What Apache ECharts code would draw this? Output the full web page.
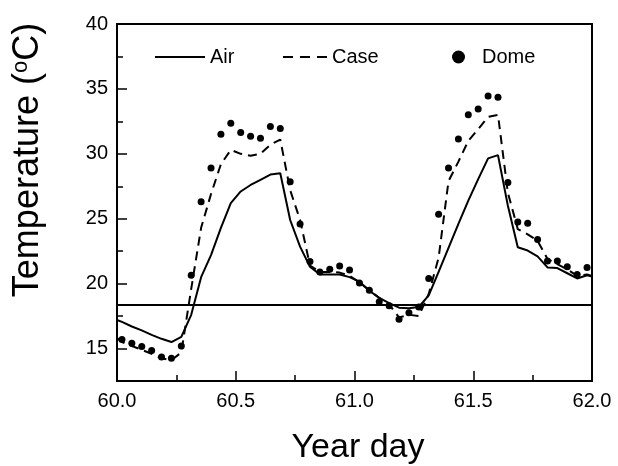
<!DOCTYPE html>
<html><head><meta charset="utf-8">
<script src="https://cdn.jsdelivr.net/npm/echarts@6/dist/echarts.min.js"></script>
<style>html,body{margin:0;padding:0;background:#fff}#c{width:618px;height:466px}</style>
</head><body><div id="c"></div>
<script>
// ---- data ----
const startDay = 60, endDay = 62;
// Air / Case: value at day 60.0, then hourly (half-hour centred) values, then value at day 62.0
const airTemp = [17.2,
  17.05,16.7,16.4,16.05,15.75,15.5,15.9,17.6,20.5,22.2,24.3,26.2,
  27.1,27.6,28.0,28.4,28.5,24.9,22.85,21.3,20.7,20.7,20.7,20.5,
  20.15,19.45,18.9,18.5,18.15,18.1,18.2,19.1,20.9,22.75,24.6,26.4,
  28.05,29.65,29.9,26.0,22.8,22.55,22.1,21.25,21.2,20.8,20.4,20.65,
  20.55];
const caseTemp = [15.8,
  15.5,15.2,14.9,14.6,14.25,14.1,14.7,19.6,24.3,26.9,29.2,30.3,
  30.0,29.85,30.0,30.7,31.1,27.2,24.9,21.4,20.9,20.9,20.85,20.6,
  20.1,19.5,18.9,18.4,17.4,17.6,17.5,19.2,22.0,27.9,29.4,31.0,
  31.9,32.85,33.0,27.0,24.2,23.8,23.3,21.9,21.5,21.1,20.6,20.7,
  20.6];
// Dome: hourly (half-hour centred) values
const domeTemp = [15.7,15.4,15.15,14.85,14.35,14.25,15.2,20.65,26.3,28.9,31.5,32.35,
  31.65,31.35,31.2,32.1,31.95,27.85,24.6,21.7,20.9,21.1,21.35,21.05,
  20.05,19.5,18.6,18.3,17.25,17.75,18.2,20.4,25.35,28.9,31.15,33.0,
  33.45,34.45,34.35,27.8,24.75,24.65,23.4,21.75,21.75,21.3,20.7,21.25];
const refTemp = 18.4;
const seriesNames = ['Air', 'Case', 'Dome'];
const yMajorTicks = [15, 20, 25, 30, 35, 40];
const yMinorTicks = [12.5, 17.5, 22.5, 27.5, 32.5, 37.5];
const xTitle = 'Year day';

// ---- build ----
const hourDays = domeTemp.map((_, i) => startDay + (i + 0.5) / 24);
const lineDays = [startDay].concat(hourDays, [endDay]);
const pairs = (xs, ys) => ys.map((v, i) => [xs[i], v]);

const FONT = '"Liberation Sans", Arial, Helvetica, sans-serif';
const legendText = {fontSize: 20, color: '#000', fontFamily: FONT};
const chart = echarts.init(document.getElementById('c'), null, {renderer: 'canvas'});
chart.setOption({
  animation: false,
  backgroundColor: '#fff',
  grid: {left: 117, right: 26, top: 24, bottom: 85, show: true, borderColor: '#000', borderWidth: 2, backgroundColor: 'transparent'},
  legend: [
    {data: [{name: seriesNames[0], icon: 'rect'}], left: 155, top: 47, padding: 0, itemWidth: 50, itemHeight: 2,
      itemStyle: {color: '#000'}, textStyle: legendText},
    {data: [{name: seriesNames[1], icon: 'path://M0,0h10v2h-10zM17,0h10v2h-10zM34,0h10v2h-10z'}], left: 283, top: 47, padding: 0,
      itemWidth: 44, itemHeight: 2, itemStyle: {color: '#000'}, textStyle: legendText},
    {data: [{name: seriesNames[2], icon: 'circle'}], left: 452, top: 47, padding: 0, itemWidth: 13, itemHeight: 13, itemGap: 0,
      itemStyle: {color: '#000', opacity: 1}, textStyle: Object.assign({padding: [0, 0, 0, 12]}, legendText)}
  ],
  xAxis: {
    type: 'value', min: startDay, max: endDay, interval: 0.5,
    axisLine: {show: true, onZero: false, lineStyle: {color: '#000', width: 2}},
    axisTick: {show: true, inside: true, length: 10, lineStyle: {color: '#000', width: 1.5}},
    minorTick: {show: true, splitNumber: 2, length: 6, lineStyle: {color: '#000', width: 1.5}},
    splitLine: {show: false}, minorSplitLine: {show: false},
    axisLabel: {color: '#000', fontSize: 20, fontFamily: FONT, margin: 10, formatter: v => v.toFixed(1)}
  },
  yAxis: [
    {
      type: 'value', min: 12.5, max: 40,
      axisLine: {show: true, onZero: false, lineStyle: {color: '#000', width: 2}},
      axisTick: {show: true, inside: true, length: 10, customValues: yMajorTicks, lineStyle: {color: '#000', width: 1.5}},
      axisLabel: {color: '#000', fontSize: 20, fontFamily: FONT, margin: 9, customValues: yMajorTicks},
      splitLine: {show: false}
    },
    {
      type: 'value', min: 12.5, max: 40, position: 'left',
      axisLine: {show: false},
      axisTick: {show: true, inside: true, length: 6, customValues: yMinorTicks, lineStyle: {color: '#000', width: 1.5}},
      axisLabel: {show: false},
      splitLine: {show: false}
    }
  ],
  series: [
    {
      name: seriesNames[0], type: 'line', data: pairs(lineDays, airTemp), yAxisIndex: 0,
      symbol: 'none', showSymbol: false,
      lineStyle: {color: '#000', width: 2, type: 'solid'}, itemStyle: {color: '#000'},
      markLine: {silent: true, symbol: 'none', label: {show: false},
        lineStyle: {color: '#000', width: 2, type: 'solid'}, data: [{yAxis: refTemp}]}
    },
    {
      name: seriesNames[1], type: 'line', data: pairs(lineDays, caseTemp), yAxisIndex: 0,
      symbol: 'none', showSymbol: false,
      lineStyle: {color: '#000', width: 2, type: [9, 6]}, itemStyle: {color: '#000'}
    },
    {
      name: seriesNames[2], type: 'scatter', data: pairs(hourDays, domeTemp), yAxisIndex: 0,
      symbol: 'circle', symbolSize: 7, itemStyle: {color: '#000', opacity: 1}
    }
  ],
  graphic: [
    {type: 'text', x: 28, y: 160, rotation: Math.PI / 2,
      style: {text: 'Temperature ({sup|o}C)', font: '36px ' + FONT, fill: '#000',
        align: 'center', verticalAlign: 'middle',
        rich: {sup: {fontSize: 22, fontFamily: FONT, verticalAlign: 'top', fill: '#000'}}}},
    {type: 'text', x: 358, y: 448,
      style: {text: xTitle, font: '34px ' + FONT, fill: '#000', align: 'center', verticalAlign: 'middle'}}
  ]
});
</script></body></html>
